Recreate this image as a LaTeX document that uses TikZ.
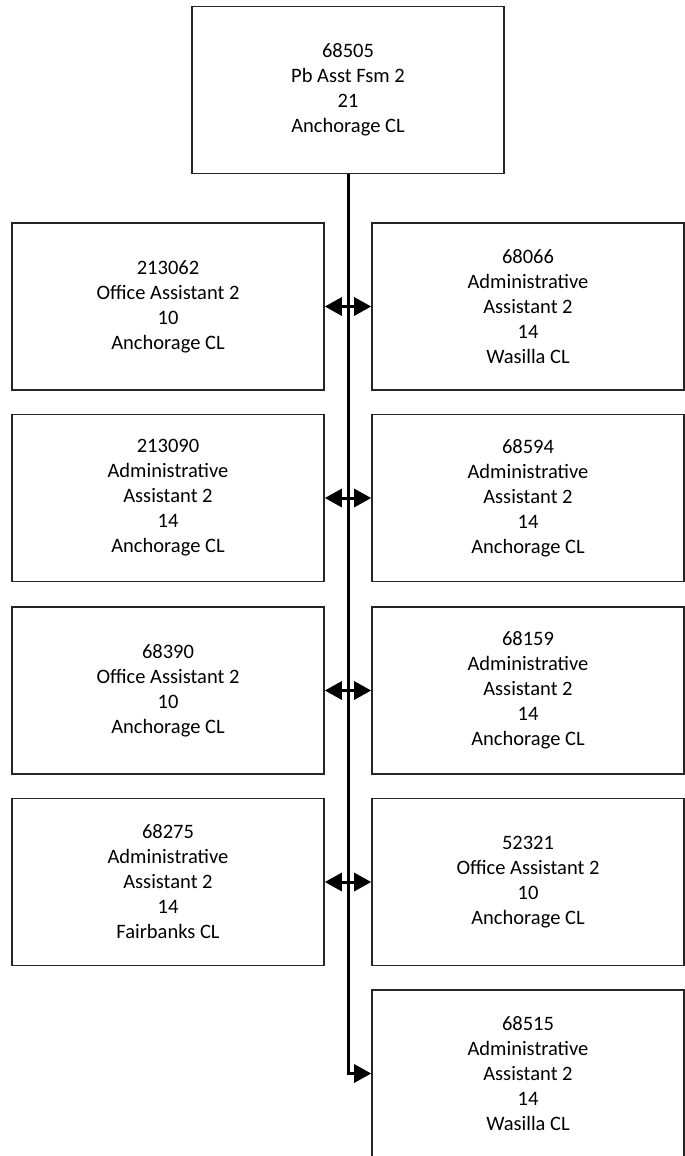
\documentclass[tikz,border=0pt]{standalone}
\usepackage{fontspec}
\setmainfont{Carlito}
\usetikzlibrary{arrows.meta,positioning}

\tikzset{
  posbox/.style={draw=black!85, line width=1.6pt, minimum width=312pt,
    minimum height=167pt, align=center, inner sep=2pt,
    font=\fontsize{20.5}{25}\selectfont},
  trunk/.style={line width=3pt, black},
  link/.style={line width=3pt, black, -{Triangle[length=17pt,width=18pt]}}
}

\begin{document}
\begin{tikzpicture}[x=1pt, y=-1pt]
  \useasboundingbox (0,0) rectangle (685,1156);

  %% Supervisor
  \node[posbox] (p68505) at (348,90) {68505\\Pb Asst Fsm 2\\21\\Anchorage CL};

  %% Left column
  \node[posbox] (p213062) at (168,306.5) {213062\\Office Assistant 2\\10\\Anchorage CL};
  \node[posbox] (p213090) at (168,498) {213090\\Administrative\\Assistant 2\\14\\Anchorage CL};
  \node[posbox] (p68390) at (168,690.5) {68390\\Office Assistant 2\\10\\Anchorage CL};
  \node[posbox] (p68275) at (168,882) {68275\\Administrative\\Assistant 2\\14\\Fairbanks CL};

  %% Right column
  \node[posbox] (p68066) at (528,306.5) {68066\\Administrative\\Assistant 2\\14\\Wasilla CL};
  \node[posbox] (p68594) at (528,498) {68594\\Administrative\\Assistant 2\\14\\Anchorage CL};
  \node[posbox] (p68159) at (528,690.5) {68159\\Administrative\\Assistant 2\\14\\Anchorage CL};
  \node[posbox] (p52321) at (528,882) {52321\\Office Assistant 2\\10\\Anchorage CL};
  \node[posbox] (p68515) at (528,1073.5) {68515\\Administrative\\Assistant 2\\14\\Wasilla CL};

  %% Trunk line
  \draw[trunk] (p68505.south) -- (p68505.south |- p68515.west);
  \draw[link] ([xshift=-1.5pt]p68505.south |- p68515.west) -- (p68515.west);

  %% Branches
  \foreach \l/\r in {p213062/p68066, p213090/p68594, p68390/p68159, p68275/p52321}{
    \draw[link] (p68505.south |- \l.east) -- (\l.east);
    \draw[link] (p68505.south |- \r.west) -- (\r.west);
  }
\end{tikzpicture}
\end{document}
